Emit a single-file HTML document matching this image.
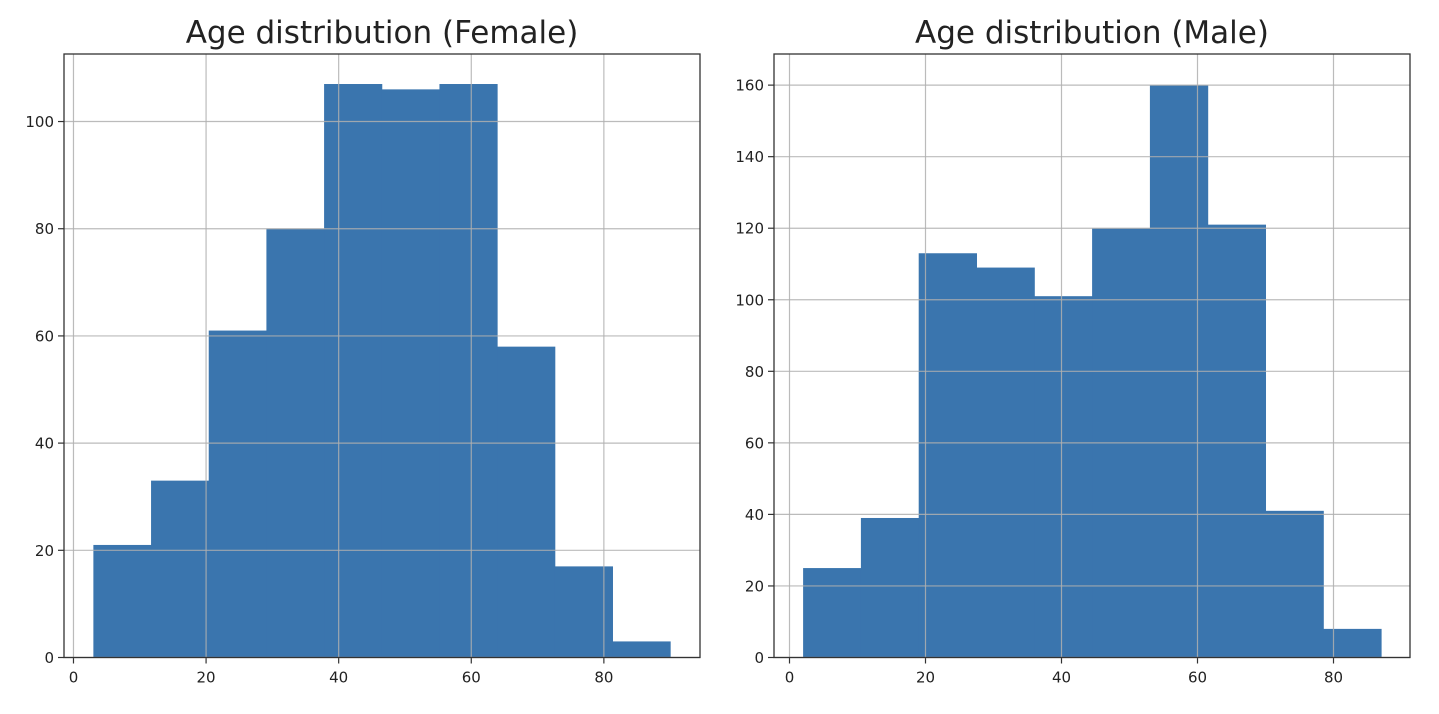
<!DOCTYPE html>
<html><head><meta charset="utf-8"><style>
body{margin:0;background:#fff;font-family:"Liberation Sans","DejaVu Sans",sans-serif}
svg text{font-family:"DejaVu Sans","Liberation Sans",sans-serif;fill:#222}
</style></head><body>
<svg id="svg" width="1439" height="709"></svg>
<script>
const femaleEdges=[3,11.7,20.4,29.1,37.8,46.5,55.2,63.9,72.6,81.3,90];
const femaleCounts=[21,33,61,80,107,106,107,58,17,3];
const maleEdges=[2,10.5,19,27.5,36,44.5,53,61.5,70,78.5,87];
const maleCounts=[25,39,113,109,101,120,160,121,41,8];
const xTicks=[0,20,40,60,80];
const femaleYTicks=[0,20,40,60,80,100];
const maleYTicks=[0,20,40,60,80,100,120,140,160];
const NS="http://www.w3.org/2000/svg";
const svg=document.getElementById('svg');
function el(t,a,p){const e=document.createElementNS(NS,t);for(const k in a)e.setAttribute(k,a[k]);(p||svg).appendChild(e);return e;}
function panel(name,title,L,R,T,B,xmin,xmax,ymax,edges,counts,yt){
  const g=el('g',{});
  
  
  const xs=v=>L+(v-xmin)/(xmax-xmin)*(R-L);
  const ys=v=>B-v/ymax*(B-T);
  for(let i=0;i<counts.length;i++){
    const r=el('rect',{x:xs(edges[i]),y:ys(counts[i]),width:xs(edges[i+1])-xs(edges[i])+0.5,height:B-ys(counts[i]),fill:'#3a75ae'},g);
    
    
  }
  xTicks.forEach(v=>{const x=xs(v);
    el('line',{x1:x,x2:x,y1:T,y2:B,stroke:'#b0b0b0','stroke-width':1.2,opacity:0.85},g);
    el('line',{x1:x,x2:x,y1:B,y2:B+6,stroke:'#333','stroke-width':1.2},g);
    const t=el('text',{x:x,y:B+25,'text-anchor':'middle','font-size':15},g);t.textContent=v;
    
    });
  yt.forEach(v=>{const y=ys(v);
    el('line',{x1:L,x2:R,y1:y,y2:y,stroke:'#b0b0b0','stroke-width':1.2,opacity:0.85},g);
    el('line',{x1:L-6,x2:L,y1:y,y2:y,stroke:'#333','stroke-width':1.2},g);
    const t=el('text',{x:L-10,y:y+5.5,'text-anchor':'end','font-size':15},g);t.textContent=v;
    
    });
  el('rect',{x:L,y:T,width:R-L,height:B-T,fill:'none',stroke:'#333','stroke-width':1.3},g);
  const tt=el('text',{x:(L+R)/2,y:T-11,'text-anchor':'middle','font-size':31},g);tt.textContent=title;
  
  
}
panel('female-histogram','Age distribution (Female)',64,700,54,657.5,-1.43,94.5,112.6,femaleEdges,femaleCounts,femaleYTicks);
panel('male-histogram','Age distribution (Male)',774,1410,54,657.5,-2.28,91.25,168.7,maleEdges,maleCounts,maleYTicks);
</script>
</body></html>
